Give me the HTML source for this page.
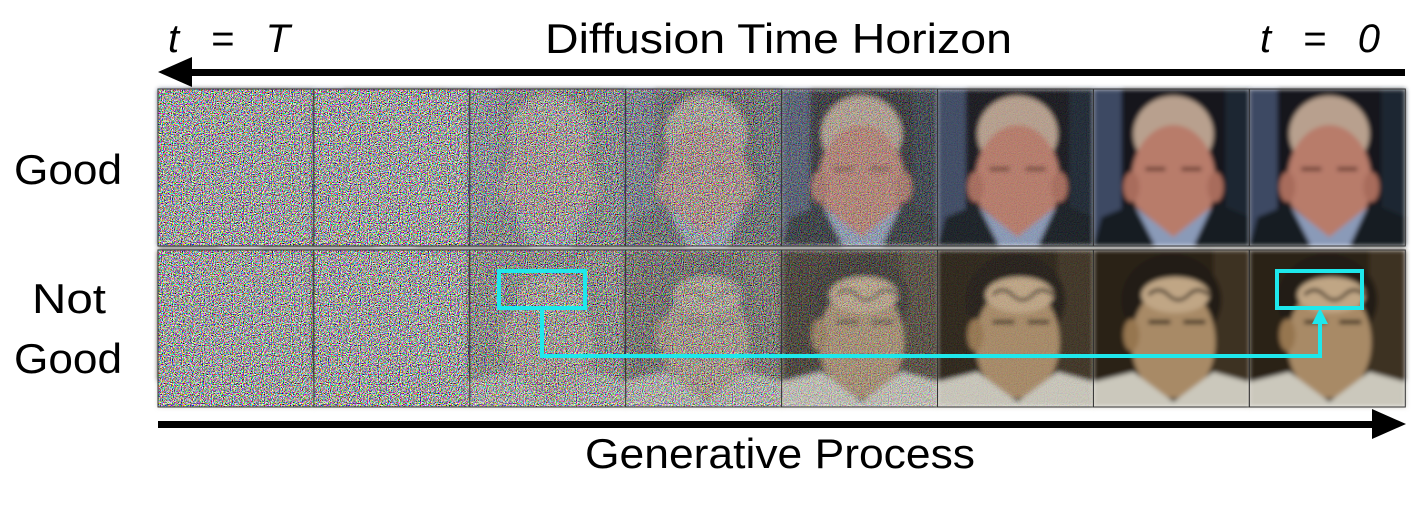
<!DOCTYPE html>
<html><head><meta charset="utf-8"><style>
body{margin:0;background:#fff;width:1416px;height:501px;overflow:hidden}
svg text{font-family:"Liberation Sans",sans-serif}
</style></head><body>
<svg width="1416" height="501" viewBox="0 0 1416 501">
<defs>
<filter id="nz" x="0" y="0" width="100%" height="100%">
<feTurbulence type="fractalNoise" baseFrequency="0.9" numOctaves="1" seed="3"/>
<feComponentTransfer><feFuncR type="linear" slope="4.5" intercept="-1.8"/><feFuncG type="linear" slope="4.5" intercept="-1.8"/><feFuncB type="linear" slope="4.5" intercept="-1.8"/><feFuncA type="linear" slope="0" intercept="1"/></feComponentTransfer>
</filter>
<filter id="bl"><feGaussianBlur stdDeviation="2.5"/></filter>
<g id="man1" filter="url(#bl)">
<rect width="156" height="157" fill="#12151c"/>
<rect width="28" height="157" fill="#3c4a63"/>
<rect x="132" width="24" height="157" fill="#1e2633"/>
<ellipse cx="80" cy="45" rx="40" ry="38" fill="#b8a08e"/>
<ellipse cx="80" cy="92" rx="42" ry="56" fill="#b87c6a"/>
<ellipse cx="38" cy="98" rx="8" ry="15" fill="#a86c5c"/>
<ellipse cx="122" cy="98" rx="8" ry="15" fill="#a86c5c"/>
<rect x="52" y="78" width="20" height="4" fill="#6a3c30"/><rect x="88" y="78" width="20" height="4" fill="#6a3c30"/>
<path d="M0 157 L8 128 L40 115 L80 150 L125 115 L156 128 L156 157Z" fill="#191b22"/>
<path d="M42 118 L62 157 L100 157 L118 118 L80 148Z" fill="#8a9ab8"/>
</g>
<g id="man2" filter="url(#bl)">
<rect width="156" height="157" fill="#2c2217"/>
<rect x="120" width="36" height="157" fill="#3c3020"/>
<ellipse cx="78" cy="50" rx="50" ry="46" fill="#221b14"/>
<ellipse cx="80" cy="92" rx="42" ry="56" fill="#a88a66"/>
<ellipse cx="82" cy="45" rx="34" ry="18" fill="#c0a685"/>
<path d="M55 45 q10 -10 20 0 t20 0 t20 0" stroke="#2e2014" stroke-width="3" fill="none"/>
<ellipse cx="38" cy="85" rx="8" ry="16" fill="#967650"/>
<rect x="55" y="70" width="22" height="4" fill="#2e2014"/><rect x="90" y="70" width="22" height="4" fill="#2e2014"/>
<path d="M0 157 L0 132 L40 122 L80 152 L120 122 L156 132 L156 157Z" fill="#cbc8bc"/>
</g>
<rect id="noise" width="156" height="157" filter="url(#nz)"/>
</defs>
<text x="168" y="52" font-family="Liberation Serif,serif" font-style="italic" font-size="40" textLength="122">t = T</text>
<text x="545" y="53" font-size="42" textLength="467" lengthAdjust="spacingAndGlyphs">Diffusion Time Horizon</text>
<text x="1260" y="52" font-family="Liberation Serif,serif" font-style="italic" font-size="40" textLength="120">t = 0</text>
<g><rect x="185" y="69" width="1220" height="7" fill="#000"/><polygon points="158,72 192,57 192,87" fill="#000"/></g>
<text x="14" y="184" font-size="42" textLength="108" lengthAdjust="spacingAndGlyphs">Good</text>
<text x="32" y="313" font-size="42" textLength="74" lengthAdjust="spacingAndGlyphs">Not</text>
<text x="14" y="373" font-size="42" textLength="108" lengthAdjust="spacingAndGlyphs">Good</text>
<g id="grid"></g>
<g fill="none" stroke="#1ee8ec" stroke-width="4">
<rect x="499" y="271" width="86" height="37"/>
<rect x="1277" y="271" width="85" height="37"/>
<polyline points="542,308 542,356 1320,356 1320,322"/>
</g>
<polygon points="1320,308 1312,324 1328,324" fill="#1ee8ec"/>
<g><rect x="158" y="421" width="1220" height="7" fill="#000"/><polygon points="1406,424 1372,409 1372,439" fill="#000"/></g>
<text x="585" y="468" font-size="42" textLength="390" lengthAdjust="spacingAndGlyphs">Generative Process</text>
</svg>
<script>
const noiseLevels=[1,1,0.85,0.7,0.35,0.08,0,0];
const rows=['man1','man2'];
const NS='http://www.w3.org/2000/svg';
const g=document.getElementById('grid');
rows.forEach((who,r)=>{
 noiseLevels.forEach((n,c)=>{
  const x=158+c*155.9, y=r?250:89;
  const cell=document.createElementNS(NS,'g');
  cell.setAttribute('transform',`translate(${x},${y})`);
  
  
  const u=document.createElementNS(NS,'use');u.setAttribute('href','#'+who);cell.appendChild(u);
  if(n>0){const v=document.createElementNS(NS,'use');v.setAttribute('href','#noise');v.setAttribute('opacity',n);cell.appendChild(v);}
  const b=document.createElementNS(NS,'rect');b.setAttribute('width','156');b.setAttribute('height','157');b.setAttribute('fill','none');b.setAttribute('stroke','#333');b.setAttribute('stroke-width','1');cell.appendChild(b);
  g.appendChild(cell);
 });
});
</script>
</body></html>
